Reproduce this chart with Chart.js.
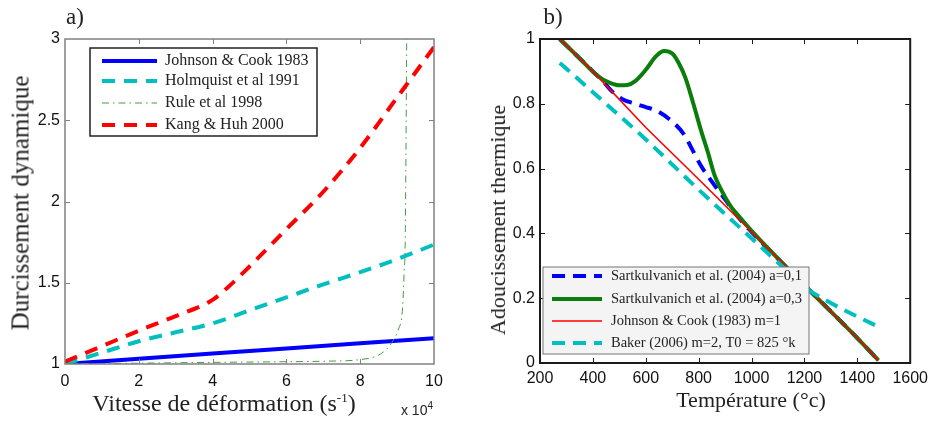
<!DOCTYPE html>
<html><head><meta charset="utf-8">
<script src="https://cdn.jsdelivr.net/npm/chart.js@4.4.1/dist/chart.umd.min.js"></script>
<style>
html,body{margin:0;padding:0;background:#fff;}
#wrap{position:relative;width:934px;height:423px;overflow:hidden;background:#fff;}
.pane{position:absolute;top:0;height:423px;}
.t{position:absolute;white-space:nowrap;color:#222;font-family:"Liberation Serif","Times New Roman",serif;line-height:1;transform:translate(-50%,-50%);}
.v{transform:translate(-50%,-50%) rotate(-90deg);}
</style></head><body>
<div id="wrap">
  <div class="pane" style="left:0;width:470px"><canvas id="c1" width="470" height="423"></canvas></div>
  <div class="pane" style="left:470px;width:464px"><canvas id="c2" width="464" height="423"></canvas></div>
  <div class="t" style="left:75px;top:16px;font-size:23px">a)</div>
  <div class="t" style="left:553px;top:16px;font-size:23px">b)</div>
  <div class="t v" style="left:20px;top:203px;font-size:25px">Durcissement dynamique</div>
  <div class="t" style="left:224px;top:403px;font-size:24px">Vitesse de déformation (s<sup style="font-size:13px">-1</sup>)</div>
  <div class="t" style="left:417px;top:409px;font-size:14px;font-family:'Liberation Sans',Arial,sans-serif">x 10<sup style="font-size:10px">4</sup></div>
  <div class="t v" style="left:498px;top:220px;font-size:22px">Adoucissement thermique</div>
  <div class="t" style="left:751px;top:400px;font-size:22px">Température (°c)</div>
</div>
<script>
// ---------- Left chart (a): dynamic hardening vs strain rate (x 10^4 s^-1) ----------
const rateTicks = [0, 2, 4, 6, 8, 10];
const hardTicks = [1, 1.5, 2, 2.5, 3];

const jcRate = [0, 2, 4, 6, 8, 10];
const jcHard = [1.0, 1.032, 1.064, 1.095, 1.127, 1.158];

const holmRate = [0, 1, 2, 3, 4, 5, 6, 7, 8, 9, 10];
const holmHard = [1.0, 1.07, 1.14, 1.195, 1.25, 1.33, 1.41, 1.49, 1.565, 1.645, 1.735];

const ruleRate = [0, 2, 4, 6, 7, 8, 8.5, 8.75, 8.9, 9.03, 9.15, 9.19, 9.22, 9.24, 9.26];
const ruleHard = [1.0, 1.005, 1.01, 1.014, 1.017, 1.027, 1.055, 1.1, 1.148, 1.21, 1.35, 1.56, 1.76, 2.3, 3.0];

const kangRate = [0, 1, 2, 3, 4, 4.5, 5, 6, 7, 8, 9, 10];
const kangHard = [1.015, 1.11, 1.205, 1.295, 1.395, 1.49, 1.6, 1.83, 2.06, 2.33, 2.64, 2.95];

const leftLabels = ['Johnson & Cook 1983', 'Holmquist et al 1991', 'Rule et al 1998', 'Kang & Huh 2000'];

// ---------- Right chart (b): thermal softening vs temperature ----------
const tempTicks = [200, 400, 600, 800, 1000, 1200, 1400, 1600];
const softTicks = [0, 0.2, 0.4, 0.6, 0.8, 1];

const s1Temp = [275, 400, 440, 470, 510, 560, 600, 640, 700, 745, 775, 810, 850, 900, 950, 1000, 1200, 1400, 1480];
const s1Soft = [1.0, 0.9, 0.868, 0.84, 0.815, 0.8, 0.79, 0.779, 0.745, 0.705, 0.66, 0.607, 0.56, 0.505, 0.45, 0.405, 0.24, 0.077, 0.008];

const s3Temp = [275, 350, 420, 460, 500, 530, 560, 600, 640, 670, 700, 725, 750, 780, 810, 835, 860, 885, 920, 950, 1000, 1200, 1400, 1480];
const s3Soft = [1.0, 0.94, 0.885, 0.866, 0.857, 0.858, 0.87, 0.905, 0.948, 0.963, 0.955, 0.925, 0.88, 0.8, 0.715, 0.65, 0.58, 0.535, 0.485, 0.455, 0.408, 0.24, 0.077, 0.008];

const jcTemp = [275, 400, 600, 800, 1000, 1200, 1400, 1480];
const jcSoft = [1.0, 0.9, 0.727, 0.567, 0.405, 0.24, 0.077, 0.008];

const bakerTemp = [275, 400, 600, 800, 1000, 1100, 1200, 1300, 1400, 1480];
const bakerSoft = [0.926, 0.836, 0.69, 0.535, 0.385, 0.31, 0.235, 0.185, 0.143, 0.112];

const rightLabels = ['Sartkulvanich et al. (2004) a=0,1', 'Sartkulvanich et al. (2004) a=0,3', 'Johnson & Cook (1983) m=1', 'Baker (2006) m=2, T0 = 825 °k'];

function pts(xs, ys){ return xs.map((x,i)=>({x:x, y:ys[i]})); }

const framePlugin = {
  id: 'frame',
  afterDatasetsDraw(chart, args, o){
    const {ctx, chartArea:a} = chart;
    const x = chart.scales.x, y = chart.scales.y;
    ctx.save();
    ctx.strokeStyle = o.color; ctx.lineWidth = o.width;
    ctx.strokeRect(a.left, a.top, a.right - a.left, a.bottom - a.top);
    ctx.lineWidth = 1;
    ctx.beginPath();
    x.ticks.forEach(t => {
      const p = Math.round(x.getPixelForValue(t.value)) + 0.5;
      if (p <= a.left + 2 || p >= a.right - 2) return;
      ctx.moveTo(p, a.bottom); ctx.lineTo(p, a.bottom - o.len);
      ctx.moveTo(p, a.top); ctx.lineTo(p, a.top + o.len);
    });
    y.ticks.forEach(t => {
      const p = Math.round(y.getPixelForValue(t.value)) + 0.5;
      if (p <= a.top + 2 || p >= a.bottom - 2) return;
      ctx.moveTo(a.left, p); ctx.lineTo(a.left + o.len, p);
      ctx.moveTo(a.right, p); ctx.lineTo(a.right - o.len, p);
    });
    ctx.stroke();
    ctx.restore();
  }
};

const boxLegend = {
  id: 'boxLegend',
  afterDraw(chart, args, o){
    const ctx = chart.ctx;
    ctx.save();
    ctx.fillStyle = o.bg;
    ctx.fillRect(o.x, o.y, o.w, o.h);
    ctx.strokeStyle = o.border; ctx.lineWidth = o.borderWidth;
    ctx.strokeRect(o.x, o.y, o.w, o.h);
    chart.data.datasets.forEach((ds, i) => {
      const ry = o.rows[i];
      ctx.strokeStyle = ds.borderColor;
      ctx.lineWidth = ds.borderWidth;
      ctx.setLineDash(ds.borderDash || []);
      ctx.beginPath(); ctx.moveTo(o.x1, ry); ctx.lineTo(o.x2, ry); ctx.stroke();
      ctx.setLineDash([]);
      ctx.fillStyle = '#222';
      ctx.font = o.font;
      ctx.textBaseline = 'middle';
      ctx.textAlign = 'left';
      ctx.fillText(ds.label, o.tx, ry);
    });
    ctx.restore();
  }
};

const tickFont = {family: "'Liberation Sans', Arial, sans-serif", size: 16};
const fmt = v => String(v);
const noGrid = {display: false, drawTicks: false, tickLength: 0};

new Chart(document.getElementById('c1'), {
  type: 'line',
  data: {
    datasets: [
      {label: leftLabels[0], data: pts(jcRate, jcHard), borderColor: '#0000ff', borderWidth: 4, order: 3, tension: 0},
      {label: leftLabels[1], data: pts(holmRate, holmHard), borderColor: '#00bfbf', borderWidth: 4, borderDash: [13, 9], order: 2, cubicInterpolationMode: 'monotone'},
      {label: leftLabels[2], data: pts(ruleRate, ruleHard), borderColor: '#3f9f3f', borderWidth: 1, borderDash: [7, 4, 1.5, 4], order: 1, cubicInterpolationMode: 'monotone'},
      {label: leftLabels[3], data: pts(kangRate, kangHard), borderColor: '#ff0000', borderWidth: 4, borderDash: [13, 9], order: 0, cubicInterpolationMode: 'monotone'}
    ]
  },
  options: {
    responsive: false, animation: false, devicePixelRatio: 1,
    layout: {padding: {top: 39, right: 36, left: 0, bottom: 0}},
    elements: {point: {radius: 0}, line: {borderCapStyle: 'butt'}},
    plugins: {
      legend: {display: false}, tooltip: {enabled: false},
      frame: {color: '#808080', width: 1.5, len: 5},
      boxLegend: {x: 90, y: 48, w: 227, h: 88, bg: '#ffffff', border: '#222', borderWidth: 1.5,
        rows: [61, 81, 103, 125], x1: 102, x2: 157, tx: 165, font: "16px 'Liberation Serif', serif"}
    },
    scales: {
      x: {type: 'linear', min: 0, max: 10,
        afterFit: s => { s.height = 59; },
        afterBuildTicks: s => { s.ticks = rateTicks.map(v => ({value: v})); },
        grid: noGrid, border: {display: false},
        ticks: {font: tickFont, color: '#111', padding: 8, maxRotation: 0, callback: fmt}},
      y: {type: 'linear', min: 1, max: 3,
        afterFit: s => { s.width = 65; },
        afterBuildTicks: s => { s.ticks = hardTicks.map(v => ({value: v})); },
        grid: noGrid, border: {display: false},
        ticks: {font: tickFont, color: '#111', padding: 5, callback: fmt}}
    }
  },
  plugins: [framePlugin, boxLegend]
});

new Chart(document.getElementById('c2'), {
  type: 'line',
  data: {
    datasets: [
      {label: rightLabels[0], data: pts(s1Temp, s1Soft), borderColor: '#0000ff', borderWidth: 4, borderDash: [13, 8], order: 3, cubicInterpolationMode: 'monotone'},
      {label: rightLabels[1], data: pts(s3Temp, s3Soft), borderColor: '#0a7d0a', borderWidth: 4, order: 2, cubicInterpolationMode: 'monotone'},
      {label: rightLabels[2], data: pts(jcTemp, jcSoft), borderColor: '#ff0000', borderWidth: 1.6, order: 1, tension: 0},
      {label: rightLabels[3], data: pts(bakerTemp, bakerSoft), borderColor: '#00bfbf', borderWidth: 4, borderDash: [13, 8], order: 0, cubicInterpolationMode: 'monotone'}
    ]
  },
  options: {
    responsive: false, animation: false, devicePixelRatio: 1,
    layout: {padding: {top: 39, right: 20, left: 0, bottom: 0}},
    elements: {point: {radius: 0}, line: {borderCapStyle: 'butt'}},
    plugins: {
      legend: {display: false}, tooltip: {enabled: false},
      frame: {color: '#1a1a1a', width: 2, len: 5},
      boxLegend: {x: 73, y: 267, w: 266, h: 87, bg: '#f4f4f4', border: '#777', borderWidth: 1,
        rows: [276, 299, 321, 343], x1: 82, x2: 132, tx: 141, font: "14.5px 'Liberation Serif', serif"}
    },
    scales: {
      x: {type: 'linear', min: 200, max: 1600,
        afterFit: s => { s.height = 60; },
        afterBuildTicks: s => { s.ticks = tempTicks.map(v => ({value: v})); },
        grid: noGrid, border: {display: false},
        ticks: {font: tickFont, color: '#111', padding: 6, maxRotation: 0, callback: fmt}},
      y: {type: 'linear', min: 0, max: 1,
        afterFit: s => { s.width = 70; },
        afterBuildTicks: s => { s.ticks = softTicks.map(v => ({value: v})); },
        grid: noGrid, border: {display: false},
        ticks: {font: tickFont, color: '#111', padding: 5, callback: fmt}}
    }
  },
  plugins: [framePlugin, boxLegend]
});
</script>
</body></html>
